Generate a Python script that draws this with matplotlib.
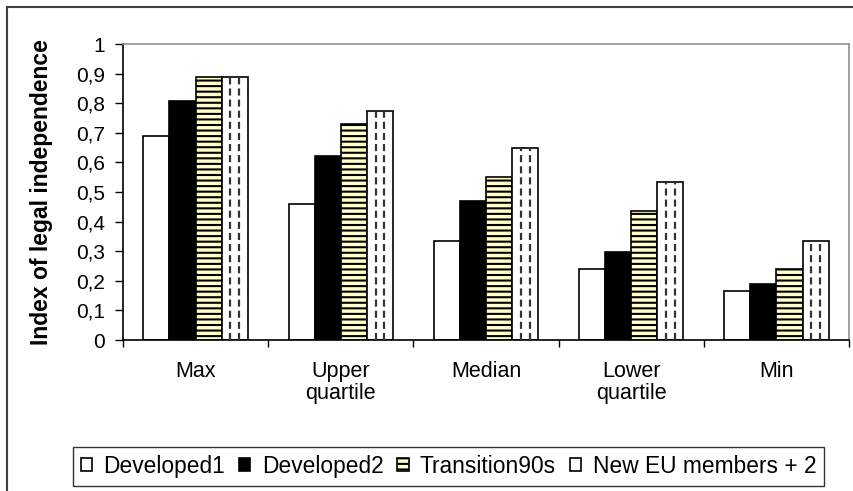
import matplotlib
matplotlib.use("Agg")
import matplotlib.pyplot as plt
import numpy as np
from matplotlib.lines import Line2D

plt.rcParams['font.family'] = ['Liberation Sans', 'DejaVu Sans']
plt.rcParams['hatch.linewidth'] = 1.5
plt.rcParams['hatch.color'] = 'black'

categories = ["Max", "Upper\nquartile", "Median", "Lower\nquartile", "Min"]
series_names = ["Developed1", "Developed2", "Transition90s", "New EU members + 2"]
developed1 = [0.69, 0.46, 0.335, 0.24, 0.167]
developed2 = [0.808, 0.62, 0.47, 0.296, 0.19]
transition90s = [0.89, 0.73, 0.55, 0.435, 0.24]
new_eu = [0.89, 0.775, 0.65, 0.535, 0.335]
yticks = [0, 0.1, 0.2, 0.3, 0.4, 0.5, 0.6, 0.7, 0.8, 0.9, 1]
ytick_labels = ["0", "0,1", "0,2", "0,3", "0,4", "0,5", "0,6", "0,7", "0,8", "0,9", "1"]

fig = plt.figure(figsize=(8.54, 4.91), dpi=100)
ax = fig.add_axes([123/854, 1-340/491, 726/854, 296/491])

x = np.arange(len(categories))
w = 0.18
series = [developed1, developed2, transition90s, new_eu]
styles = [
    dict(facecolor='white', hatch=None),
    dict(facecolor='black', hatch=None),
    dict(facecolor='#FFFFC8', hatch='---'),
    dict(facecolor='white', hatch=None),
]
containers = []
for i, (vals, st) in enumerate(zip(series, styles)):
    c = ax.bar(x + (i - 1.5) * w, vals, width=w, facecolor=st['facecolor'],
               edgecolor='black', linewidth=1.2, hatch=st['hatch'],
               label=series_names[i], zorder=2)
    containers.append(c)

# dashed pattern inside the last series' bars
for b in containers[3]:
    bx, bw, bh = b.get_x(), b.get_width(), b.get_height()
    for frac in (1/3, 2/3):
        ax.plot([bx + bw*frac, bx + bw*frac], [0, bh], color='#333333',
                lw=1.6, dashes=(3.2, 1.8), zorder=3)

ax.set_xlim(-0.5, len(categories) - 0.5)
ax.set_ylim(0, 1)
ax.set_yticks(yticks)
ax.set_yticklabels(ytick_labels, fontsize=15)
ax.tick_params(axis='y', length=6, width=1, pad=7, direction='out')
ax.set_xticks(x)
ax.set_xticklabels(categories, fontsize=15.5, linespacing=1.1)
ax.tick_params(axis='x', which='major', length=0, pad=15)
ax.set_xticks(np.arange(-0.5, len(categories), 1), minor=True)
ax.tick_params(axis='x', which='minor', length=5, width=1, direction='out')

ax.spines['left'].set_color('black')
ax.spines['bottom'].set_color('black')
ax.spines['top'].set_color('#909090')
ax.spines['right'].set_color('#909090')
for s in ax.spines.values():
    s.set_linewidth(1.2)

ax.set_ylabel("Index of legal independence", fontsize=16.5, fontweight='bold')
ax.yaxis.set_label_coords(-0.097, 0.5)

leg = fig.legend(handles=containers, labels=series_names, loc='center',
                 bbox_to_anchor=(448.5/854, 1-466.5/491), ncol=4, fontsize=16.4,
                 frameon=True, fancybox=False, handlelength=0.5, handleheight=0.5,
                 handletextpad=0.5, columnspacing=0.6, borderpad=0.35)
leg.get_frame().set_edgecolor('black')
leg.get_frame().set_linewidth(1.0)

# outer chart border (partially cropped)
fig.add_artist(Line2D([7.5/854, 7.5/854], [0, 1-7/491], transform=fig.transFigure,
                      color='#404040', lw=1.5))
fig.add_artist(Line2D([7.5/854, 1], [1-7/491, 1-7/491], transform=fig.transFigure,
                      color='#404040', lw=1.5))

fig.savefig("out.png", dpi=100)
